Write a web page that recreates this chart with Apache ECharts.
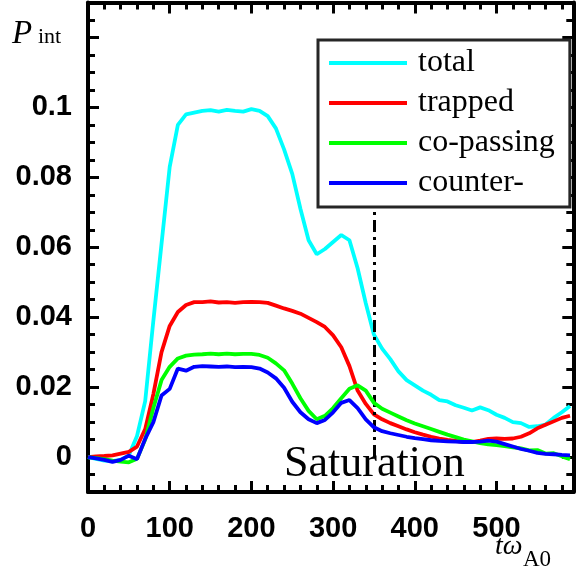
<!DOCTYPE html>
<html>
<head>
<meta charset="utf-8">
<script src="https://cdn.jsdelivr.net/npm/echarts@6/dist/echarts.min.js"></script>
<style>
html,body{margin:0;padding:0;background:#fff;}
#chart{width:576px;height:571px;}
</style>
</head>
<body>
<div id="chart"></div>
<script>
// time samples (t * omega_A0)
const tValues = [0,10,20,30,40,50,60,70,80,90,100,110,120,130,140,150,160,170,180,190,200,210,220,230,240,250,260,270,280,290,300,310,320,330,340,350,360,370,380,390,400,410,420,430,440,450,460,470,480,490,500,510,520,530,540,550,560,570,580,590];

const seriesNames = ['total','trapped','co-passing','counter-'];
const seriesColors = ['#00ffff','#ff0000','#00ff00','#0000ff'];

const totalP = [0.000,-0.0005,-0.001,-0.0012,-0.0008,0.0005,0.006,0.016,0.039,0.061,0.083,0.095,0.098,0.0985,0.099,0.0992,0.0988,0.0993,0.099,0.0988,0.0995,0.099,0.0975,0.094,0.088,0.081,0.071,0.062,0.058,0.0595,0.0615,0.0635,0.062,0.054,0.044,0.035,0.031,0.028,0.0245,0.022,0.0205,0.019,0.0178,0.0163,0.0159,0.0148,0.0141,0.0133,0.0142,0.0134,0.0121,0.0112,0.0100,0.0097,0.0086,0.0088,0.0093,0.0112,0.0128,0.0146];

const trappedP = [0,0.0002,0.0003,0.0005,0.001,0.0015,0.003,0.008,0.018,0.030,0.0375,0.0415,0.0435,0.0443,0.0443,0.0445,0.0442,0.0443,0.0441,0.0443,0.0444,0.0443,0.0441,0.0433,0.0425,0.0418,0.041,0.0398,0.0386,0.0372,0.0348,0.0314,0.026,0.019,0.0152,0.0122,0.0108,0.0097,0.0088,0.0079,0.0071,0.0064,0.0058,0.0053,0.0049,0.0046,0.0043,0.0043,0.0047,0.0052,0.0053,0.0052,0.0053,0.0058,0.0068,0.0082,0.0092,0.0102,0.0112,0.0118];

const coPassingP = [0,-0.0003,-0.0006,-0.001,-0.0013,-0.0015,-0.0005,0.005,0.014,0.022,0.0258,0.0282,0.029,0.0293,0.0294,0.0296,0.0294,0.0296,0.0294,0.0295,0.0295,0.0292,0.0284,0.0268,0.0248,0.021,0.0168,0.0132,0.0108,0.0118,0.014,0.0168,0.0195,0.0205,0.019,0.0155,0.0138,0.0127,0.0116,0.0105,0.0096,0.0088,0.008,0.0072,0.0064,0.0057,0.005,0.0045,0.004,0.0036,0.0034,0.0031,0.0028,0.0025,0.0019,0.0020,0.0010,0.0011,0.0002,-0.0006];

const counterP = [0,-0.0004,-0.0008,-0.0014,-0.0008,0.0004,-0.0006,0.0052,0.010,0.0176,0.0195,0.0253,0.0247,0.0258,0.026,0.0259,0.0258,0.0259,0.0257,0.0258,0.0257,0.0253,0.0242,0.0225,0.0198,0.0158,0.0128,0.0108,0.0097,0.0106,0.0128,0.0155,0.0163,0.014,0.0108,0.0085,0.0074,0.0068,0.0063,0.0058,0.0054,0.0051,0.0048,0.0046,0.0045,0.0044,0.0043,0.0043,0.0044,0.0047,0.0044,0.0037,0.003,0.0023,0.0018,0.0012,0.0009,0.0008,0.0006,0.0005];

const xTickLabels = ['0','100','200','300','400','500'];
const yTickLabels = ['0','0.02','0.04','0.06','0.08','0.1'];
const saturationT = 350;
const saturationLineTop = 0.0715;

const allSeries = [totalP, trappedP, coPassingP, counterP];

const X_MIN = 0, X_MAX = 594, Y_MIN = -0.01, Y_MAX = 0.13;

function fmtY(v){
  const s = String(+v.toFixed(4));
  return yTickLabels.indexOf(s) >= 0 ? s : '';
}
function fmtX(v){
  const s = String(Math.round(v));
  return xTickLabels.indexOf(s) >= 0 ? s : '';
}

const frameColor = '#000';
const lw = 4;

function xAxisCfg(pos, showLabel){
  return {
    type:'value', position:pos, min:X_MIN, max:X_MAX, interval:100,
    axisLine:{show:true, onZero:false, lineStyle:{color:frameColor, width:lw}},
    axisTick:{show:true, inside:true, length:11, lineStyle:{color:frameColor, width:3}},
    minorTick:{show:true, splitNumber:5, length:7, lineStyle:{color:frameColor, width:3}},
    splitLine:{show:false},
    axisLabel:{show:showLabel, margin:22, fontFamily:'Liberation Sans', fontWeight:'bold', fontSize:29, color:'#000', formatter:fmtX, showMaxLabel:false}
  };
}
function yAxisCfg(pos, showLabel){
  return {
    type:'value', position:pos, min:Y_MIN, max:Y_MAX, splitNumber:7, minInterval:0.02, maxInterval:0.02,
    axisLine:{show:true, onZero:false, lineStyle:{color:frameColor, width:lw}},
    axisTick:{show:true, inside:true, length:11, lineStyle:{color:frameColor, width:3}},
    minorTick:{show:true, splitNumber:4, length:7, lineStyle:{color:frameColor, width:3}},
    splitLine:{show:false},
    axisLabel:{show:showLabel, margin:16, fontFamily:'Liberation Sans', fontWeight:'bold', fontSize:29, color:'#000', formatter:fmtY, showMinLabel:false, showMaxLabel:false}
  };
}

const series = seriesNames.map((name, i) => ({
  name: name,
  type: 'line',
  xAxisIndex: 0, yAxisIndex: 0,
  data: tValues.map((t, k) => [t, allSeries[i][k]]),
  showSymbol: false,
  symbol: 'none',
  lineStyle: {color: seriesColors[i], width: 3.8},
  itemStyle: {color: seriesColors[i]},
  z: 3 + i
}));

series[3].markLine = {
  silent: true,
  symbol: 'none',
  label: {show:false},
  lineStyle: {color:'#000', width:3, type:[12,5,3,5]},
  data: [[{coord:[saturationT, 0]}, {coord:[saturationT, saturationLineTop]}]]
};

const chart = echarts.init(document.getElementById('chart'), null, {renderer:'canvas'});
chart.setOption({
  animation: false,
  backgroundColor: '#fff',
  grid: {left:88, right:2.7, top:2.5, bottom:79, containLabel:false},
  xAxis: [xAxisCfg('bottom', true), xAxisCfg('top', false)],
  yAxis: [yAxisCfg('left', true), yAxisCfg('right', false)],
  legend: {
    data: seriesNames,
    orient: 'vertical',
    left: 318, top: 40,
    icon: 'rect',
    itemWidth: 78, itemHeight: 4,
    itemGap: 8,
    padding: [7, 15, 8, 11],
    backgroundColor: '#fff',
    borderColor: '#262626',
    borderWidth: 3,
    borderRadius: 0,
    z: 10,
    selectedMode: false,
    textStyle: {fontFamily:'Liberation Serif', fontSize:32, lineHeight:32, color:'#000', padding:[0,0,0,6]}
  },
  series: series,
  graphic: [
    {type:'text', left:12, top:18, style:{text:'P', font:'italic 33px "Liberation Serif"', fill:'#000'}},
    {type:'text', left:38, top:26, style:{text:'int', font:'22px "Liberation Serif"', fill:'#000'}},
    {type:'text', left:284, top:442, z:20, style:{text:'Saturation', font:'44px "Liberation Serif"', fill:'#000'}},
    {type:'text', left:495, top:533, style:{text:'tω', font:'italic 28px "Liberation Serif"', fill:'#000'}},
    {type:'text', left:523, top:548, style:{text:'A0', font:'23px "Liberation Serif"', fill:'#000'}}
  ]
});
</script>
</body>
</html>
